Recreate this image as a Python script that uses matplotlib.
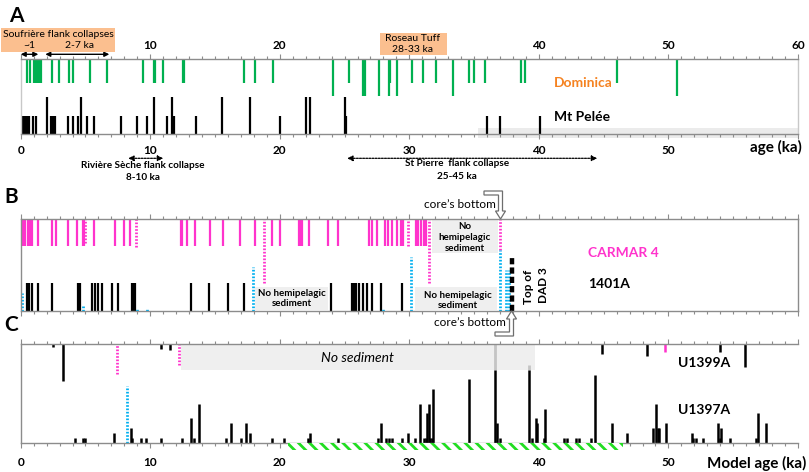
import matplotlib
matplotlib.use('Agg')
import matplotlib.pyplot as plt
from matplotlib.patches import Polygon, Rectangle

plt.rcParams['font.family'] = ['Lato', 'DejaVu Sans']
plt.rcParams['hatch.linewidth'] = 2.0

# ---------------- data ----------------
# Panel A - Dominica eruptions (age ka, size class 1=small 2=large)
dominica_age = [0.46, 0.72, 1.0, 1.12, 1.25, 1.38, 1.6, 2.42, 2.93, 3.73, 4.07, 5.35, 6.69,
                9.42, 10.3, 10.4, 11.0, 12.5, 12.62, 17.25, 18.12, 19.5, 24.07, 25.35, 26.4,
                26.55, 27.62, 28.4, 28.5, 29.03, 30.24, 31.04, 32.07, 33.36, 34.62, 35.0,
                35.85, 38.63, 38.94, 46.05, 50.65]
dominica_cls = [1, 1, 1, 1, 1, 1, 1, 1, 1, 1, 1, 1, 1,
                1, 1, 1, 1, 1, 1, 1, 1, 1, 2, 1, 2,
                2, 2, 2, 1, 2, 1, 1, 1, 2, 1, 1,
                1, 1, 1, 1, 2]
# Panel A - Mt Pelee eruptions
pelee_age = [0.1, 0.25, 0.4, 0.55, 0.65, 0.98, 1.15, 2.01, 2.34, 2.5, 2.65, 3.68, 4.01, 4.4,
             4.66, 5.15, 5.66, 7.72, 9.0, 9.73, 10.3, 11.33, 11.7, 11.8, 13.54, 15.55, 17.73,
             20.03, 22.03, 22.34, 25.04, 25.1, 36.03, 37.01, 40.05]
pelee_cls = [1, 1, 1, 1, 1, 1, 1, 2, 1, 1, 1, 1, 1, 1,
             2, 1, 1, 1, 1, 1, 2, 1, 2, 1, 1, 2, 2,
             1, 2, 2, 2, 1, 1, 1, 1]

# Panel B - CARMAR 4 and 1401A
carmar4_age = [0.2, 0.33, 0.54, 0.72, 0.9, 1.36, 2.39, 2.7, 3.68, 4.35, 4.84, 4.92, 5.69, 7.28,
               7.98, 8.44, 12.35, 12.48, 12.82, 13.46, 14.62, 15.65, 16.93, 18.09, 19.43, 20.02,
               21.5, 21.6, 21.7, 22.29, 23.75, 24.53, 26.92, 27.1, 27.5, 28.13, 28.39, 28.65,
               29.08, 29.34, 29.54, 30.5, 30.7, 30.9, 31.1, 31.3]
u1401a_age = [0.46, 0.64, 0.9, 1.36, 2.39, 4.45, 4.58, 5.48, 5.74, 5.99, 6.3, 7.02, 7.54,
              8.57, 8.7, 8.83, 13.15, 14.57, 16.03, 17.24, 23.93, 25.6, 25.73, 25.87, 26.12,
              26.41, 26.72, 27.1, 27.8, 29.42]
b_pink_age = [5.0, 8.88, 18.81, 29.88, 31.48, 37.0]
b_pink_extent = [24, 28, 63.4, 27, 63.4, 31]
b_blue_age = [0.08, 4.78, 8.95, 9.78, 17.9, 28.0, 30.14, 37.0, 37.47, 37.68]
b_blue_extent = [17.5, 5, 2.5, 2.5, 43.8, 2.5, 53.8, 60.5, 40.5, 40.5]
dad3_age = 37.9
dad3_extent = 53.8

# Panel C - U1399A (hanging) and U1397A (standing) thickness units
u1399a_age = [2.52, 3.29, 10.81, 11.53, 44.86, 48.34, 53.95, 55.93]
u1399a_val = [0.5, 7.6, 1.0, 1.2, 2.0, 2.5, 1.5, 4.6]
u1399a_pink_age = [49.7]
u1399a_pink_val = [1.5]
u1397a_age = [4.22, 4.79, 4.94, 7.2, 8.49, 8.62, 9.27, 9.65, 10.81, 12.43, 13.15, 13.41, 13.79,
              15.83, 16.24, 16.99, 17.42, 17.68, 19.38, 20.3, 22.21, 22.34, 24.52, 27.61, 27.8,
              28.21, 28.43, 28.65, 29.47, 29.93, 30.4, 30.83, 31.14, 31.27, 31.35, 31.48, 31.6,
              31.72, 31.84, 34.57, 36.63, 36.76, 37.01, 39.2, 39.46, 39.77, 39.89, 40.42, 40.49,
              41.9, 42.16, 42.85, 43.11, 44.0, 44.35, 45.67, 46.83, 48.77, 49.03, 49.16, 49.29,
              49.82, 51.79, 51.92, 52.12, 52.7, 53.8, 53.95, 54.08, 54.72, 56.77, 56.91, 57.5]
u1397a_val = [1, 1, 1, 2, 3, 1, 1, 1, 1, 1, 5, 1, 8,
              1, 4, 1, 4, 2, 1, 1, 1, 2, 1, 1, 4,
              1, 1, 1, 1, 2, 1, 8, 1, 1, 6, 8, 1,
              1, 11, 13, 15, 4, 1, 15, 1, 5, 4, 1, 7,
              1, 1, 1, 1, 1, 14, 4, 2, 3, 8, 3, 3,
              4, 2, 1, 1, 1, 4, 1, 3, 1, 1, 6, 4]
c_pink_age = [7.46, 12.22]
c_pink_val = [6.2, 4.3]
c_blue_age = [8.18]
c_blue_val = [11.65]

tick_major = [0, 10, 20, 30, 40, 50, 60]
bottom_labels = ['0', '10', '20', '30', '40', '50', '']
top_labels = ['10', '20', '', '40', '50', '60']   # "30" is hidden under the Roseau Tuff box

# ---------------- style ----------------
W, H = 809, 472
GREEN = '#00b050'
MAG = '#ff33cc'
BLUE = '#00b0f0'
ORANGE = '#f58220'
BOXO = '#fbbf8f'
GRAYBOX = '#efefef'
SPINE = '#8c8c8c'
DOT = (0, (0.6, 0.6))

fig = plt.figure(figsize=(W / 100, H / 100), dpi=100)
X0, X1 = 20.7, 798.0


def make_panel(top, bottom, ymax):
    ax = fig.add_axes([X0 / W, 1 - bottom / H, (X1 - X0) / W, (bottom - top) / H])
    ax.set_xlim(0, 60)
    ax.set_ylim(0, ymax)
    ax.patch.set_alpha(0)
    for s in ax.spines.values():
        s.set_color(SPINE)
        s.set_linewidth(1.0)
    ax.set_yticks([])
    ax.set_xticks(tick_major)
    ax.set_xticks(range(0, 61), minor=True)
    ax.tick_params(axis='x', which='both', colors=SPINE, width=0.8, top=True, bottom=True,
                   labelbottom=False, labeltop=False, direction='out')
    ax.tick_params(axis='x', which='major', length=3.5)
    ax.tick_params(axis='x', which='minor', length=2.5)
    return ax


# ---------------- Panel A ----------------
HA = 75.0
axA = make_panel(59.3, 134.3, HA)
lenG = {1: 24, 2: 37}
lenB = {1: 18, 2: 37}
axA.vlines(dominica_age, [HA - lenG[c] for c in dominica_cls], HA, color=GREEN, lw=1.6)
axA.vlines(pelee_age, 0, [lenB[c] for c in pelee_cls], color='black', lw=1.6)
axA.spines['left'].set_color('#c8c8c8')
axA.spines['right'].set_color('#c8c8c8')
axA.add_patch(Rectangle((35.3, -4), 24.7, 10, facecolor='#ebebeb', edgecolor='none',
                        clip_on=False, zorder=0.5))
axA.tick_params(axis='x', which='major', labelbottom=True, pad=4, labelsize=8.5,
                labelcolor='black')
axA.set_xticklabels(bottom_labels, fontweight='bold')
secA = axA.secondary_xaxis('top')
secA.set_xticks(tick_major[1:])
secA.set_xticklabels(top_labels, fontweight='bold')
secA.tick_params(length=0, pad=6, labelsize=8.5)
secA.spines['top'].set_visible(False)

# arrows for flank collapses
for xa, xb in [(0.0, 1.36), (1.9, 6.84)]:
    axA.annotate('', xy=(xa, 80), xytext=(xb, 80), annotation_clip=False,
                 arrowprops=dict(arrowstyle='<|-|>', color='black', lw=1.0,
                                 mutation_scale=7, shrinkA=0, shrinkB=0))
for xa, xb in [(8.3, 11.0), (25.2, 44.5)]:
    axA.annotate('', xy=(xa, -24), xytext=(xb, -24), annotation_clip=False,
                 arrowprops=dict(arrowstyle='<|-|>', color='black', lw=0.9, ls=(0, (1.5, 1)),
                                 mutation_scale=8, shrinkA=0, shrinkB=0))

# ---------------- Panel B ----------------
HB = 91.2
axB = make_panel(219.3, 310.5, HB)
axB.vlines(carmar4_age, HB - 26.7, HB, color=MAG, lw=1.6)
axB.vlines(u1401a_age, 0, 28, color='black', lw=1.6)
axB.vlines(b_pink_age, [HB - e for e in b_pink_extent], HB, color=MAG, lw=2.0, linestyles=[DOT])
axB.vlines(b_blue_age, 0, b_blue_extent, color=BLUE, lw=2.0, linestyles=[DOT])
axB.vlines([dad3_age], 0, [dad3_extent], color='black', lw=3.2, linestyles=[(0, (1.4, 0.7))])
axB.add_patch(Rectangle((31.74, 57.5), 5.14, 33, facecolor=GRAYBOX, edgecolor='none', zorder=0.5))
axB.add_patch(Rectangle((18.1, 0.6), 5.6, 23, facecolor=GRAYBOX, edgecolor='none', zorder=0.5))
axB.add_patch(Rectangle((30.45, 0.6), 6.33, 22.5, facecolor=GRAYBOX, edgecolor='none', zorder=0.5))

# ---------------- Panel C ----------------
HC = 20.25
axC = make_panel(344.3, 442.5, HC)
axC.spines['right'].set_visible(False)
axC.add_patch(Rectangle((12.35, 14.95), 27.35, HC - 14.95, facecolor=GRAYBOX, edgecolor='none',
                        zorder=0.5))
axC.vlines([36.63], 15.05, HC, color='#c4c4c4', lw=2.0)
axC.vlines([39.2], 15.05, 16.0, color='#c4c4c4', lw=2.0)
axC.vlines(u1399a_age, [HC - v for v in u1399a_val], HC, color='black', lw=1.8)
axC.vlines(u1399a_pink_age, [HC - v for v in u1399a_pink_val], HC, color=MAG, lw=1.8)
axC.vlines(u1397a_age, 0, u1397a_val, color='black', lw=1.8)
axC.vlines(c_pink_age, [HC - v for v in c_pink_val], HC, color=MAG, lw=2.0, linestyles=[DOT])
axC.vlines(c_blue_age, 0, c_blue_val, color=BLUE, lw=2.0, linestyles=[DOT])
axC.add_patch(Rectangle((20.67, -1.55), 25.83, 1.45, facecolor='white', edgecolor='#22dd22',
                        hatch='\\\\\\', lw=0, clip_on=False, zorder=3))
axC.tick_params(axis='x', which='both', bottom=True, direction='out')
axC.tick_params(axis='x', which='major', labelbottom=True, pad=7, labelsize=8.5,
                labelcolor='black')
axC.set_xticklabels(bottom_labels, fontweight='bold')

# ---------------- overlay for annotations (pixel coords) ----------------
ov = fig.add_axes([0, 0, 1, 1])
ov.set_xlim(0, W)
ov.set_ylim(H, 0)
ov.axis('off')
ov.patch.set_alpha(0)

ov.add_patch(Rectangle((1, 28), 114, 24, facecolor=BOXO, edgecolor='none', zorder=1))
ov.add_patch(Rectangle((380, 33), 67, 22, facecolor=BOXO, edgecolor='none', zorder=1))


def T(x, y, s, size=8, weight='normal', color='black', ha='center', **kw):
    ov.text(x, y, s, fontsize=size, fontweight=weight, color=color, ha=ha, va='center',
            zorder=5, **kw)


T(16, 16, 'A', size=15, weight='bold')
T(11, 197, 'B', size=15, weight='bold')
T(11, 325, 'C', size=15, weight='bold')
T(58, 34.5, 'Soufrière flank collapses', size=7.5)
T(29, 45.5, '~1', size=7.5)
T(80, 45.5, '2-7 ka', size=7.5)
T(413, 38.5, 'Roseau Tuff', size=7.5)
T(413, 49, '28-33 ka', size=7.5)
T(554, 83, 'Dominica', size=10, weight='bold', color=ORANGE, ha='left')
T(554, 117, 'Mt Pelée', size=10, weight='bold', ha='left')
T(802, 147.5, 'age (ka)', size=11, weight='bold', ha='right')
T(143, 165.7, 'Rivière Sèche flank collapse', size=7.2, weight='bold')
T(143, 177, '8-10 ka', size=7.2, weight='bold')
T(457, 163.3, 'St Pierre  flank collapse', size=7.2, weight='bold')
T(457, 176.7, '25-45 ka', size=7.2, weight='bold')
T(460, 204, 'core’s bottom', size=8.5)
T(469.5, 323, 'core’s bottom', size=8.5)
T(465, 226.7, 'No', size=7, weight='bold')
T(465, 237.7, 'hemipelagic', size=7, weight='bold')
T(465, 248.3, 'sediment', size=7, weight='bold')
T(291.7, 293.3, 'No hemipelagic', size=7, weight='bold')
T(291.7, 304, 'sediment', size=7, weight='bold')
T(457.5, 295, 'No hemipelagic', size=7, weight='bold')
T(457.5, 305.7, 'sediment', size=7, weight='bold')
T(529, 287, 'Top of', size=8.5, weight='bold', rotation=90)
T(544, 285, 'DAD 3', size=8.5, weight='bold', rotation=90)
T(588, 252.7, 'CARMAR 4', size=10, weight='bold', color=MAG, ha='left')
T(588, 284, '1401A', size=10, weight='bold', ha='left')
T(357.5, 358.3, 'No sediment', size=10, style='italic')
T(678, 362.7, 'U1399A', size=10, weight='bold', ha='left')
T(678, 410, 'U1397A', size=10, weight='bold', ha='left')
T(806, 463.3, 'Model age (ka)', size=11, weight='bold', ha='right')

# hollow bent arrows (core's bottom)
top_arrow = [(484, 191), (502.5, 191), (502.5, 211), (505.5, 211), (500.5, 219), (495.5, 211),
             (498.5, 211), (498.5, 195), (484, 195)]
bot_arrow = [(511.5, 311), (516.5, 319), (513.5, 319), (513.5, 336), (495, 336), (495, 332),
             (509.5, 332), (509.5, 319), (506.5, 319)]
for pts in (top_arrow, bot_arrow):
    ov.add_patch(Polygon(pts, closed=True, facecolor='white', edgecolor='#6e6e6e', lw=0.9,
                         zorder=4))

fig.savefig('out.png', dpi=100)
